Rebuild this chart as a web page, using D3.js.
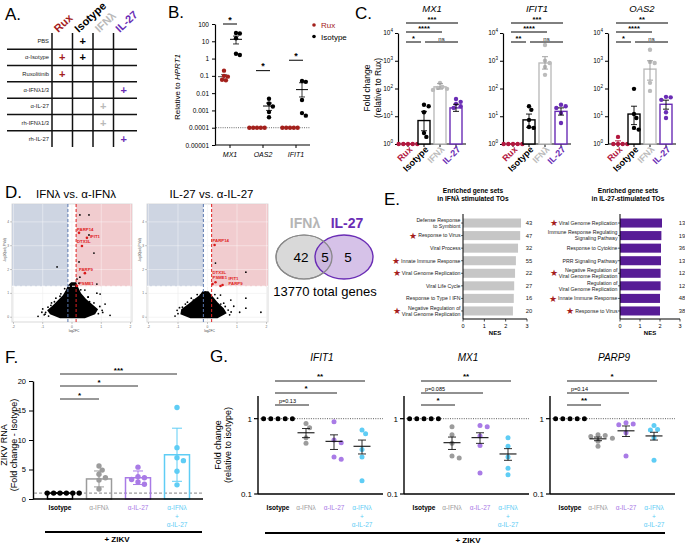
<!DOCTYPE html>
<html><head><meta charset="utf-8">
<script src="https://cdn.jsdelivr.net/npm/d3@7"></script>
<style>body{margin:0;background:#fff}svg{font-family:"Liberation Sans",Arial,Helvetica,sans-serif}</style>
</head><body><svg id="c" width="685" height="545"></svg>
<script>
// ================= DATA =================
// Panel A
const aColumns = ["Rux", "Isotype", "IFNλ", "IL-27"];
const aRows = ["PBS", "α-Isotype", "Ruxolitinib", "α-IFNλ1/3", "α-IL-27", "rh-IFNλ1/3", "rh-IL-27"];
const aMarks = [["Isotype"], ["Rux", "Isotype"], ["Rux"], ["IL-27"], ["IFNλ"], ["IFNλ"], ["IL-27"]];

// Panel B
const bGenes = ["MX1", "OAS2", "IFIT1"];
const bSeries = ["Rux", "Isotype"];
const bRux = [[0.2, 0.1, 0.09, 0.06, 0.055], [0.0001, 0.0001, 0.0001, 0.0001, 0.0001], [0.0001, 0.0001, 0.0001, 0.0001, 0.0001]];
const bIso = [[30, 28, 15, 1.9, 1.6], [0.0047, 0.0025, 0.0017, 0.0008, 0.0004], [0.05, 0.045, 0.004, 0.0007, 0.0005]];
const bRuxMean = [0.09, 0.0001, 0.0001];
const bRuxErr = [[0.065, 0.12], [0.0001, 0.0001], [0.0001, 0.0001]];
const bIsoMean = [13, 0.0018, 0.016];
const bIsoErr = [[7, 20], [0.001, 0.0027], [0.006, 0.04]];
const bSig = [100, 0.2, 0.8];
const bTicks = [100, 10, 1, 0.1, 0.01, 0.001, 0.0001, 0.00001];
const bTickLabels = ["100", "10", "1", "0.1", "0.01", "0.001", "0.0001", "0.00001"];

// Panel C
const cGenes = ["MX1", "IFIT1", "OAS2"];
const cGroups = ["Rux", "Isotype", "IFNλ", "IL-27"];
const cPoints = [
  [[1, 1, 1, 1, 1], [26, 23, 14, 2.5, 1.8], [160, 114, 105, 97, 89], [42, 33, 28, 23, 20]],
  [[1, 1, 1, 1, 1], [23, 17, 7.4, 4.1, 3.8], [3700, 1000, 830, 600, 310], [26, 23, 20, 13, 5.7]],
  [[1.8, 1, 1, 1, 1], [97, 12, 8.7, 3.8, 3.3], [2500, 910, 830, 160, 82], [50, 48, 39, 14, 8.7]]
];
const cMeans = [[1, 7, 115, 20], [1, 7.4, 830, 15], [1.1, 12, 500, 27]];
const cErr = [
  [[1, 1], [3, 15], [95, 150], [15, 27]],
  [[1, 1], [4, 12], [500, 1400], [11, 20]],
  [[1, 1.3], [5, 23], [200, 1000], [18, 38]]
];
const cSig = [
  [["Rux", "IL-27", "***"], ["Rux", "IFNλ", "****"], ["Rux", "Isotype", "*"], ["Isotype", "IL-27", "ns"]],
  [["Rux", "IL-27", "***"], ["Rux", "IFNλ", "****"], ["Rux", "Isotype", "**"], ["Isotype", "IL-27", "ns"]],
  [["Rux", "IL-27", "**"], ["Rux", "IFNλ", "****"], ["Rux", "Isotype", "*"], ["Isotype", "IL-27", "ns"]]
];
const cTicks = [1, 10, 100, 1000, 10000];

// Panel D (volcano: [log2FC, -log10 adj.P])
const dTitles = ["IFNλ vs. α-IFNλ", "IL-27 vs. α-IL-27"];
const dBlobIFN = [[-0.41, -0.04], [-0.75, 0.13], [-0.85, 0.29], [-0.65, 0.5], [-0.48, 0.71], [-0.31, 0.92], [-0.21, 1.13], [-0.14, 1.34], [-0.03, 1.47], [0.14, 1.47], [0.21, 1.26], [0.31, 1.01], [0.48, 0.76], [0.68, 0.55], [0.89, 0.34], [0.79, 0.13], [0.44, -0.04]];
const dPtsIFN = [[0.27, 4.29], [0.58, 4.29], [0.58, 3.45], [0.75, 2.69], [0.24, 2.32], [0.27, 1.68], [0.85, 1.39], [-0.51, 2.11], [0.17, 1.6], [0.24, 1.43],
  [-0.82, 0.42], [-1.03, 0.21], [-0.65, 0.34], [-0.48, 0.59], [-0.31, 0.72], [0.38, 0.72], [0.55, 0.84], [0.85, 1.01], [0.96, 0.97], [0.34, 0.51], [0.62, 0.42],
  [0.72, 0.17], [1.03, 0.29], [0.51, 0.21], [0.21, 0.38], [0.44, 1.14], [1.13, 0.55], [-0.41, 0.88], [-0.92, 0.13], [1.3, 0.08], [-1.16, 0.04], [-0.21, 1.05], [-0.72, 0.5], [-0.55, 0.8],
  [-0.9, 0.2], [-1.0, 0.35], [-0.7, 0.6], [-0.6, 0.65], [-0.38, 0.98], [0.55, 0.85], [0.75, 0.6], [0.95, 0.45], [1.05, 0.2], [0.3, 1.15], [-0.25, 1.2], [0.6, 0.65], [-0.8, 0.05], [0.9, 0.15], [-0.95, 0.1], [0.65, 0.3]];
const dGenesIFN = [["PARP14", 0.24, 3.54], ["IFIT1", 0.51, 3.33], ["DTX3L", 0.34, 2.99], ["PARP9", 0.44, 1.85], ["PSME1", 0.17, 1.31]];
const dBlobIL = [[-0.58, -0.04], [-0.92, 0.13], [-0.89, 0.34], [-0.65, 0.55], [-0.44, 0.76], [-0.27, 0.92], [-0.17, 1.09], [0.03, 1.09], [0.17, 0.88], [0.34, 0.63], [0.55, 0.38], [0.65, 0.17], [0.34, -0.04]];
const dPtsIL = [[0.27, 2.27], [1.3, 1.89], [1.3, 0.8], [1.3, 0.38], [1.09, 0.21], [1.81, 0.21], [0.89, 0.46], [0.44, 0.93], [0.34, 0.8], [-0.85, 0.42], [-1.03, 0.29],
  [-0.68, 0.63], [-0.48, 0.72], [-0.24, 0.93], [-0.07, 1.05], [0.79, 0.72], [0.55, 0.59], [-0.82, 0.21],
  [-1.0, 0.15], [-0.95, 0.4], [-0.75, 0.55], [-0.55, 0.8], [0.45, 0.55], [0.7, 0.3], [0.75, 0.1], [0.25, 0.95], [-0.35, 0.95], [0.6, 0.45], [-1.1, 0.05], [0.8, 0.22]];
const dGenesIL = [["PARP14", 0.24, 3.03], ["DTX3L", 0.27, 1.47], ["PSME1", 0.17, 1.39], ["IFIT1", 0.44, 1.31], ["PARP9", 0.51, 1.35]];
const dXTicks = [-2, -1, 0, 1, 2];
const dYTicks = [0, 1, 2, 3, 4];

// Venn
const vennSets = ["IFNλ", "IL-27"];
const vennCounts = [42, 5, 5];
const vennTotal = "13770 total genes";

// Panel E
const eTitles = [["Enriched gene sets", "in IFNλ stimulated TOs"], ["Enriched gene sets", "in IL-27-stimulated TOs"]];
const eLeftTerms = ["Defense Response\nto Symbiont", "Response to Virus", "Viral Process", "Innate Immune Response", "Viral Genome Replication", "Viral Life Cycle", "Response to Type I IFN", "Negative Regulation of\nViral Genome Replication"];
const eLeftNES = [2.72, 2.68, 2.58, 2.48, 2.44, 2.4, 2.38, 2.34];
const eLeftCount = [43, 47, 32, 55, 22, 27, 16, 20];
const eLeftStar = [0, 1, 0, 1, 1, 0, 0, 1];
const eRightTerms = ["Viral Genome Replication", "Immune Response Regulating\nSignaling Pathway", "Response to Cytokine", "PRR Signaling Pathway", "Negative Regulation of\nViral Genome Replication", "Regulation of\nViral Genome Replication", "Innate Immune Response", "Response to Virus"];
const eRightNES = [2.1, 2.07, 2.05, 2.05, 2.03, 2.03, 2.0, 2.0];
const eRightCount = [13, 19, 36, 13, 12, 12, 48, 38];
const eRightStar = [1, 0, 0, 0, 1, 0, 1, 1];
const eTicks = [0, 1, 2, 3];

// Panel F
const fGroups = ["Isotype", "α-IFNλ", "α-IL-27", "α-IFNλ\n+\nα-IL-27"];
const fPoints = [[1, 1, 1, 1, 1, 1], [5.6, 4.9, 4.2, 3.6, 3.2, 1.7], [5.4, 3.8, 3.6, 3.3, 2.9, 2.5], [15.5, 8.7, 7.0, 6.5, 4.7, 2.4]];
const fMeans = [1, 3.4, 3.6, 7.5];
const fSd = [0.05, 1.35, 1.15, 4.5];
const fSig = [[0, 1, "*"], [0, 2, "*"], [0, 3, "***"]];
const fTicks = [0, 5, 10, 15, 20];

// Panel G
const gGenes = ["IFIT1", "MX1", "PARP9"];
const gGroups = ["Isotype", "α-IFNλ", "α-IL-27", "α-IFNλ\n+\nα-IL-27"];
const gPoints = [
  [[1, 1, 1, 1, 1], [0.86, 0.76, 0.56, 0.47], [0.91, 0.52, 0.48, 0.31, 0.29], [0.71, 0.63, 0.39, 0.31, 0.15]],
  [[1, 1, 1, 1, 1], [0.78, 0.61, 0.47, 0.32, 0.30], [0.81, 0.78, 0.59, 0.44, 0.19], [0.56, 0.43, 0.31, 0.22, 0.18]],
  [[1, 1, 1, 1, 1], [0.61, 0.6, 0.58, 0.55, 0.5, 0.43], [0.88, 0.85, 0.83, 0.65, 0.32], [0.81, 0.72, 0.71, 0.56, 0.28]]
];
const gMeans = [[1, 0.65, 0.5, 0.43], [1, 0.48, 0.56, 0.34], [1, 0.54, 0.69, 0.59]];
const gSem = [[0, 0.09, 0.11, 0.09], [0, 0.09, 0.09, 0.06], [0, 0.03, 0.11, 0.07]];
const gSig = [
  [[0, 1, "p=0.13"], [0, 2, "*"], [0, 3, "**"]],
  [[0, 1, "*"], [0, 2, "p=0.085"], [0, 3, "**"]],
  [[0, 1, "**"], [0, 2, "p=0.14"], [0, 3, "*"]]
];

// ================= STYLE =================
const COL = { Rux: "#a3201c", Isotype: "#000", "IFNλ": "#b9b9b9", "IL-27": "#6a2db5" };
const cCol = { Rux: "#b3173f", Isotype: "#000", "IFNλ": "#bcbcbc", "IL-27": "#6a2db5" };
const zCol = ["#000", "#9c9c9c", "#a97be6", "#5fcdf5"];

const svg = d3.select("#c");
function T(g, x, y, s, o = {}) {
  const t = g.append("text").attr("x", x).attr("y", y).text(s)
    .attr("font-size", o.fs || 8).attr("fill", o.fill || "#000")
    .attr("text-anchor", o.anchor || "start");
  if (o.bold) t.attr("font-weight", "bold");
  if (o.italic) t.attr("font-style", "italic");
  if (o.rot !== undefined) t.attr("transform", `rotate(${o.rot},${x},${y})`);
  return t;
}
function L(g, x1, y1, x2, y2, c = "#000", w = 1, dash) {
  const l = g.append("line").attr("x1", x1).attr("y1", y1).attr("x2", x2).attr("y2", y2).attr("stroke", c).attr("stroke-width", w);
  if (dash) l.attr("stroke-dasharray", dash);
  return l;
}
function swarm(ys, r, step) {
  const placed = [], out = [];
  ys.forEach((y, i) => {
    for (let k = 0; k < 60; k++) {
      const off = k === 0 ? 0 : (k % 2 ? 1 : -1) * Math.ceil(k / 2) * step;
      if (placed.every(p => Math.hypot(p[0] - off, p[1] - y) >= 2 * r - 0.3)) { placed.push([off, y]); out[i] = off; break; }
    }
  });
  return out;
}
function errBar(g, cx, yM, yLo, yHi, wM, wC, c, sw) {
  L(g, cx - wM / 2, yM, cx + wM / 2, yM, c, sw);
  L(g, cx, yLo, cx, yHi, c, sw * 0.8);
  L(g, cx - wC / 2, yLo, cx + wC / 2, yLo, c, sw * 0.8);
  L(g, cx - wC / 2, yHi, cx + wC / 2, yHi, c, sw * 0.8);
}

// panel letters
[["A.", 5, 20], ["B.", 168, 18], ["C.", 355, 19], ["D.", 5, 198], ["E.", 384, 205], ["F.", 5, 363], ["G.", 210, 362]]
  .forEach(d => T(svg, d[1], d[2], d[0], { fs: 17 }));

// ================= A =================
{
  const g = svg.append("g");
  const x = d3.scaleBand().domain(aColumns).range([52, 134]);
  const y = d3.scaleBand().domain(aRows).range([33, 147]);
  aRows.slice(1).forEach(r => L(g, 7, y(r), 137, y(r), "#111", 1.5));
  aColumns.forEach(c => L(g, x(c), 33, x(c), 147, "#111", 1.5));
  aColumns.forEach(c => T(g, x(c) + x.bandwidth() / 2 - 4, 33, c, { fs: 11, bold: true, fill: COL[c], rot: -43 }));
  aRows.forEach((r, i) => {
    T(g, 49, y(r) + y.bandwidth() / 2 + 2, r, { fs: 5.8, anchor: "end", fill: "#222" });
    aMarks[i].forEach(c => T(g, x(c) + x.bandwidth() / 2, y(r) + y.bandwidth() / 2 + 4, "+", { fs: 11, bold: true, anchor: "middle", fill: COL[c] }));
  });
}

// ================= B =================
{
  const g = svg.append("g");
  const y = d3.scaleLog().domain([1e-5, 100]).range([145, 24]);
  const x = d3.scalePoint().domain(bGenes).range([230, 296]);
  const ax = g.append("g").attr("transform", "translate(215,0)")
    .call(d3.axisLeft(y).tickValues(bTicks).tickFormat((d, i) => bTickLabels[i]).tickSize(3).tickSizeOuter(0));
  ax.selectAll("text").attr("font-size", 6.5).attr("font-family", "Liberation Sans, Arial");
  ax.select(".domain").attr("stroke-width", 1.2);
  L(g, 215, 145, 310, 145, "#000", 1.2);
  bGenes.forEach(gn => { L(g, x(gn), 145, x(gn), 148, "#000", 1); T(g, x(gn), 157, gn, { fs: 7, italic: true, anchor: "middle" }); });
  L(g, 216, y(0.0001), 310, y(0.0001), "#444", 0.8, "1,1.2");
  T(g, 180, 87, "Relative to ", { fs: 8, anchor: "middle", rot: -90 }).append("tspan").attr("font-style", "italic").text("HPRT1");
  bGenes.forEach((gn, i) => {
    [[bRux[i], bRuxMean[i], bRuxErr[i], -6, COL.Rux], [bIso[i], bIsoMean[i], bIsoErr[i], 6, "#000"]].forEach(([pts, m, e, dx, c]) => {
      const ys = pts.map(v => y(v));
      const off = swarm(ys, 2.2, 2.4);
      errBar(g, x(gn) + dx, y(m), y(e[0]), y(e[1]), 12, 6, c === "#000" ? "#000" : "#555", 1);
      ys.forEach((yy, k) => g.append("circle").attr("cx", x(gn) + dx + off[k] * 0.8).attr("cy", yy).attr("r", 2.2).attr("fill", c));
    });
    const sy = y(bSig[i]);
    L(g, x(gn) - 7, sy, x(gn) + 7, sy, "#000", 1);
    T(g, x(gn), sy - 1.5, "*", { fs: 9, bold: true, anchor: "middle" });
  });
  bSeries.forEach((s, i) => {
    g.append("circle").attr("cx", 314).attr("cy", 25 + i * 11.5).attr("r", 1.8).attr("fill", i ? "#000" : COL.Rux);
    T(g, 321, 28 + i * 11.5, s, { fs: 8, fill: i ? "#000" : COL.Rux });
  });
}

// ================= C =================
{
  const cX0 = [398, 503, 608];
  const y = d3.scaleLog().domain([1, 1e4]).range([144, 33]);
  const sigY = [23, 32, 42];
  T(svg, 370, 88, "Fold change", { fs: 8.5, anchor: "middle", rot: -90 });
  T(svg, 381, 88, "(relative to Rux)", { fs: 8.5, anchor: "middle", rot: -90 });
  cGenes.forEach((gene, gi) => {
    const g = svg.append("g");
    const x0 = cX0[gi];
    const x = d3.scalePoint().domain(cGroups).range([x0 + 10, x0 + 58]);
    T(g, x0 + 34, 12, gene, { fs: 9.5, italic: true, anchor: "middle" });
    const ax = g.append("g").attr("transform", `translate(${x0},0)`)
      .call(d3.axisLeft(y).tickValues(cTicks).tickSize(3).tickSizeOuter(0).tickFormat(""));
    ax.select(".domain").attr("stroke-width", 1.2);
    cTicks.forEach(t => {
      const tx = T(g, x0 - 5, y(t) + 2, "10", { fs: 6.5, anchor: "end" });
      tx.append("tspan").attr("dy", -3).attr("font-size", 4.5).text(Math.round(Math.log10(t)));
    });
    L(g, x0, 144, x0 + 68, 144, "#000", 1.2);
    cGroups.forEach((grp, k) => {
      const cx = x(grp), c = cCol[grp];
      L(g, cx, 144, cx, 147, "#000", 1);
      if (k > 0) g.append("rect").attr("x", cx - 6).attr("y", y(cMeans[gi][k])).attr("width", 12)
        .attr("height", 144 - y(cMeans[gi][k])).attr("fill", "#fff").attr("stroke", c).attr("stroke-width", 1.4);
      const ys = cPoints[gi][k].map(v => y(v));
      const off = swarm(ys, 2.2, 2.6);
      ys.forEach((yy, j) => g.append("circle").attr("cx", cx + off[j] * 0.9).attr("cy", yy).attr("r", 2.2).attr("fill", c));
      const e = cErr[gi][k];
      const ec = k === 2 ? "#999" : (k === 0 ? c : "#000");
      L(g, cx, y(e[0]), cx, y(e[1]), ec, 0.9);
      L(g, cx - 3, y(e[1]), cx + 3, y(e[1]), ec, 0.9);
      L(g, cx - 3, y(e[0]), cx + 3, y(e[0]), ec, 0.9);
      T(g, cx + 5, 150, grp, { fs: 9, bold: true, anchor: "end", fill: c, rot: -45 });
    });
    cSig[gi].forEach((s, si) => {
      const lvl = si < 2 ? si : 2;
      let xa = x(s[0]) - 2, xb = x(s[1]) + 2;
      if (si === 2) xb = x(s[1]) - 3;
      if (si === 3) xa = x(s[0]) + 1;
      L(g, xa, sigY[lvl], xb, sigY[lvl], "#000", 1);
      T(g, (xa + xb) / 2, sigY[lvl] - 1.5, s[2], { fs: s[2] === "ns" ? 6 : 7.5, bold: s[2] !== "ns", anchor: "middle" });
    });
  });
}

// ================= D =================
function volcano(x0, x1, title, blob, pts, genes, labOff) {
  const g = svg.append("g");
  const x = d3.scaleLinear().domain([-2.05, 2.05]).range([x0, x1]);
  const y = d3.scaleLinear().domain([-0.2, 4.75]).range([322, 204]);
  T(g, (x0 + x1) / 2 + 4, 198, title, { fs: 11.5, anchor: "middle" });
  g.append("rect").attr("x", x0).attr("y", 204).attr("width", x1 - x0).attr("height", 118).attr("fill", "#fff").attr("stroke", "#cfcfcf").attr("stroke-width", 0.8);
  dXTicks.forEach(t => L(g, x(t), 204, x(t), 322, "#ececec", 0.6));
  dYTicks.forEach(t => L(g, x0, y(t), x1, y(t), "#ececec", 0.6));
  g.append("rect").attr("x", x0).attr("y", 204).attr("width", x(-0.14) - x0).attr("height", y(1.3) - 204).attr("fill", "#c9d0df").attr("opacity", 0.9);
  g.append("rect").attr("x", x(0.14)).attr("y", 204).attr("width", x1 - x(0.14)).attr("height", y(1.3) - 204).attr("fill", "#f0c6ca").attr("opacity", 0.9);
  dXTicks.forEach(t => L(g, x(t), 204, x(t), y(1.3), "#fff", 0.4));
  dYTicks.filter(t => t > 1.3).forEach(t => L(g, x0, y(t), x1, y(t), "#fff", 0.4));
  const marks = g.append("g");
  marks.append("path").attr("d", d3.line().x(d => x(d[0])).y(d => y(d[1])).curve(d3.curveLinearClosed)(blob)).attr("fill", "#000");
  pts.forEach(p => marks.append("circle").attr("cx", x(p[0])).attr("cy", y(p[1])).attr("r", 0.9).attr("fill", "#000"));
  L(g, x0, y(1.3), x1, y(1.3), "#fff", 1, "3,2");
  L(g, x(-0.14), 204, x(-0.14), 322, "#5a78b0", 1, "3,2");
  L(g, x(0.14), 204, x(0.14), 322, "#e02020", 1, "3,2");
  genes.forEach((d, i) => {
    g.append("circle").attr("cx", x(d[1])).attr("cy", y(d[2])).attr("r", 1.3).attr("fill", "#d81b1b");
    T(g, x(d[1]) + labOff[i][0], y(d[2]) + labOff[i][1], d[0], { fs: 4.3, bold: true, fill: "#e01a1a" });
  });
  dXTicks.forEach(t => { L(g, x(t), 322, x(t), 324, "#777", 0.4); T(g, x(t), 327.5, t, { fs: 3.3, anchor: "middle", fill: "#666" }); });
  dYTicks.forEach(t => { L(g, x0 - 2, y(t), x0, y(t), "#777", 0.4); T(g, x0 - 3, y(t) + 1, t, { fs: 3.3, anchor: "end", fill: "#666" }); });
  T(g, (x0 + x1) / 2 + 2, 332, "log2FC", { fs: 3.3, anchor: "middle", fill: "#444" });
  T(g, x0 - 6, 250, "-log10(adj.P.Val)", { fs: 3.3, anchor: "middle", fill: "#444", rot: -90 });
}
volcano(12, 132, dTitles[0], dBlobIFN, dPtsIFN, dGenesIFN, [[-2, -2], [3, 0], [-5, -3], [-6, -2], [2, -1]]);
volcano(147, 268, dTitles[1], dBlobIL, dPtsIL, dGenesIL, [[-2, -3], [-3, -8], [0, -5], [8, -6], [6, 0]]);

// ================= Venn =================
{
  const g = svg.append("g");
  g.append("ellipse").attr("cx", 304).attr("cy", 257).attr("rx", 28).attr("ry", 22).attr("fill", "#d9d9d9").attr("stroke", "#8a8a8a").attr("stroke-width", 1.2);
  g.append("ellipse").attr("cx", 344).attr("cy", 257).attr("rx", 29).attr("ry", 22).attr("fill", "#c8aee0").attr("fill-opacity", 0.75).attr("stroke", "#6a2db5").attr("stroke-width", 1.4);
  g.append("ellipse").attr("cx", 304).attr("cy", 257).attr("rx", 28).attr("ry", 22).attr("fill", "none").attr("stroke", "#8a8a8a").attr("stroke-width", 1.2);
  T(g, 305, 228, vennSets[0], { fs: 14, bold: true, anchor: "middle", fill: "#b5b5b5" });
  T(g, 347, 228, vennSets[1], { fs: 14, bold: true, anchor: "middle", fill: "#6a2db5" });
  T(g, 301, 262, vennCounts[0], { fs: 13.5, anchor: "middle" });
  T(g, 325, 262, vennCounts[1], { fs: 13.5, anchor: "middle" });
  T(g, 348, 262, vennCounts[2], { fs: 13.5, anchor: "middle" });
  T(g, 325, 296, vennTotal, { fs: 13, anchor: "middle" });
}

// ================= E =================
function gsea(ax0, ax1, titles, terms, nes, counts, stars, color) {
  const g = svg.append("g");
  const x = d3.scaleLinear().domain([0, 3]).range([ax0, ax1]);
  const y = d3.scaleBand().domain(d3.range(terms.length)).range([215, 319]).padding(0.28);
  T(g, (ax0 + ax1) / 2 - 22, 193, titles[0], { fs: 6.6, bold: true, anchor: "middle" });
  T(g, (ax0 + ax1) / 2 - 22, 201, titles[1], { fs: 6.6, bold: true, anchor: "middle" });
  terms.forEach((t, i) => {
    const cy = y(i) + y.bandwidth() / 2;
    g.append("rect").attr("x", ax0).attr("y", y(i)).attr("width", x(nes[i]) - ax0).attr("height", y.bandwidth()).attr("fill", color);
    L(g, ax0 - 2, cy, ax0, cy, "#000", 0.6);
    const lines = t.split("\n");
    let maxW = 0;
    lines.forEach((ln, k) => {
      const tt = T(g, ax0 - 2.5, cy + 1.8 + (k - (lines.length - 1) / 2) * 6, ln, { fs: 5.2, anchor: "end", fill: "#222" });
      maxW = Math.max(maxW, tt.node().getComputedTextLength());
    });
    if (stars[i]) T(g, ax0 - 2.5 - maxW - 5, cy + 3.2, "★", { fs: 9, anchor: "middle", fill: "#a51c1c" });
    T(g, ax1 + 2, cy + 2, counts[i], { fs: 5.8, anchor: "middle", fill: "#222" });
  });
  L(g, ax0, 214, ax0, 319, "#000", 1);
  L(g, ax0, 319, ax1, 319, "#000", 1);
  eTicks.forEach(t => { L(g, x(t), 319, x(t), 321.5, "#000", 0.7); T(g, x(t), 328, t, { fs: 5.5, anchor: "middle" }); });
  T(g, (ax0 + ax1) / 2, 335, "NES", { fs: 6, bold: true, anchor: "middle" });
}
gsea(463, 527, eTitles[0], eLeftTerms, eLeftNES, eLeftCount, eLeftStar, "#c6c6c6");
gsea(620, 680, eTitles[1], eRightTerms, eRightNES, eRightCount, eRightStar, "#571c96");

// ================= F =================
{
  const g = svg.append("g");
  const y = d3.scaleLinear().domain([0, 20]).range([499, 381]);
  const x = d3.scalePoint().domain(fGroups).range([60, 177]);
  const ax = g.append("g").attr("transform", "translate(33,0)").call(d3.axisLeft(y).tickValues(fTicks).tickSize(4).tickSizeOuter(0));
  ax.selectAll("text").attr("font-size", 7.5).attr("font-family", "Liberation Sans, Arial");
  ax.select(".domain").attr("stroke-width", 1.4);
  T(g, 7, 445, "ZIKV RNA", { fs: 9, anchor: "middle", rot: -90 });
  T(g, 17, 445, "(Fold change - Isotype)", { fs: 9, anchor: "middle", rot: -90 });
  L(g, 34, y(1), 203, y(1), "#777", 0.9, "3,2");
  fGroups.forEach((grp, k) => {
    const cx = x(grp), c = zCol[k];
    g.append("rect").attr("x", cx - 12.5).attr("y", y(fMeans[k])).attr("width", 25).attr("height", 499 - y(fMeans[k]))
      .attr("fill", "none").attr("stroke", c).attr("stroke-width", 1.5);
    const ys = fPoints[k].map(v => y(v));
    const off = swarm(ys, 2.7, 3.2);
    ys.forEach((yy, j) => g.append("circle").attr("cx", cx + off[j]).attr("cy", yy).attr("r", 2.7).attr("fill", c));
    const hi = y(fMeans[k] + fSd[k]), lo = y(Math.max(0, fMeans[k] - fSd[k]));
    L(g, cx, lo, cx, hi, c, 1); L(g, cx - 5, hi, cx + 5, hi, c, 1); L(g, cx - 5, lo, cx + 5, lo, c, 1);
    grp.split("\n").forEach((ln, j) => T(g, cx, 510 + j * 8.5, ln, { fs: 6.5, bold: k === 0, anchor: "middle", fill: c }));
  });
  L(g, 33, 499, 203, 499, "#000", 1.6);
  const sy = [399, 386, 374];
  fSig.forEach((s, i) => {
    L(g, x(fGroups[s[0]]), sy[i], x(fGroups[s[1]]), sy[i], "#333", 1);
    T(g, (x(fGroups[s[0]]) + x(fGroups[s[1]])) / 2, sy[i] - 1, s[2], { fs: 8, bold: true, anchor: "middle" });
  });
  L(g, 45, 532, 202, 532, "#000", 2);
  T(g, 117, 542, "+ ZIKV", { fs: 8, bold: true, anchor: "middle" });
}

// ================= G =================
{
  const y = d3.scaleLog().domain([0.1, 2]).range([494, 396]);
  const gX0 = [258, 404, 550];
  const sy = [405, 393, 381];
  T(svg, 221, 445, "Fold change", { fs: 9, anchor: "middle", rot: -90 });
  T(svg, 231, 445, "(relative to isotype)", { fs: 9, anchor: "middle", rot: -90 });
  gGenes.forEach((gene, gi) => {
    const g = svg.append("g");
    const x0 = gX0[gi];
    const x = d3.scalePoint().domain(gGroups).range([x0 + 20, x0 + 104]);
    T(g, x0 + 64, 361, gene, { fs: 10, italic: true, anchor: "middle" });
    L(g, x0, 396, x0, 494, "#000", 1.4);
    L(g, x0, 494, x0 + 125, 494, "#000", 1.4);
    [[1, "1"], [0.1, "0.1"]].forEach(([v, s]) => { L(g, x0 - 4, y(v), x0, y(v), "#000", 1.2); T(g, x0 - 6, y(v) + 3, s, { fs: 8, anchor: "end" }); });
    L(g, x0, y(1), x0 + 125, y(1), "#333", 0.8, "1,1.3");
    gGroups.forEach((grp, k) => {
      const cx = x(grp), c = zCol[k];
      const ys = gPoints[gi][k].map(v => y(v));
      const off = swarm(ys, 2.5, 3.6);
      ys.forEach((yy, j) => g.append("circle").attr("cx", cx + off[j]).attr("cy", yy).attr("r", 2.5).attr("fill", c));
      if (k > 0) errBar(g, cx, y(gMeans[gi][k]), y(gMeans[gi][k] - gSem[gi][k]), y(gMeans[gi][k] + gSem[gi][k]), 17, 8, "#111", 1.1);
      grp.split("\n").forEach((ln, j) => T(g, cx, 510 + j * 8.5, ln, { fs: 6.5, bold: k === 0, anchor: "middle", fill: c }));
    });
    gSig[gi].forEach((s, i) => {
      const xa = x(gGroups[s[0]]) - 3, xb = x(gGroups[s[1]]) + 3;
      L(g, xa, sy[i], xb, sy[i], "#222", 1);
      const isP = s[2].startsWith("p");
      T(g, isP ? xa + 4 : (xa + xb) / 2, sy[i] - 2, s[2], { fs: isP ? 5.5 : 8, bold: !isP, anchor: isP ? "start" : "middle" });
    });
  });
  L(svg, 265, 533, 665, 533, "#000", 2);
  T(svg, 468, 543, "+ ZIKV", { fs: 8, bold: true, anchor: "middle" });
}
</script></body></html>
